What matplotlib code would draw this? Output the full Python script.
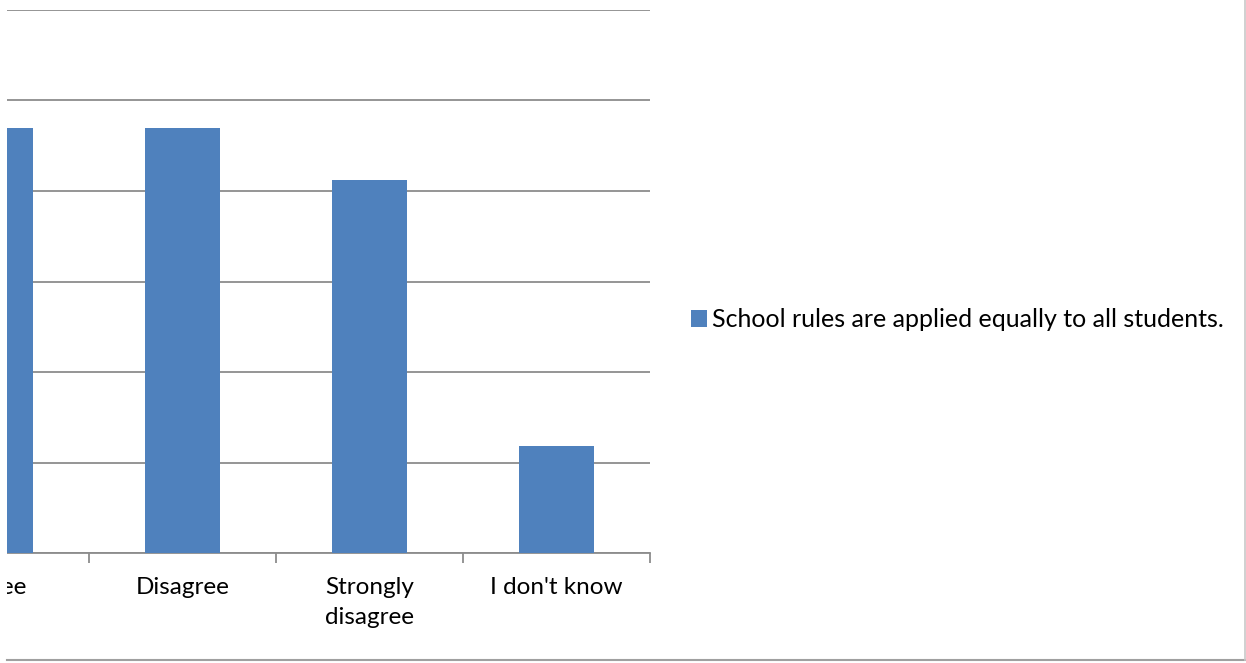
import matplotlib
matplotlib.use("Agg")
import matplotlib.pyplot as plt
from matplotlib.patches import Rectangle
from matplotlib.lines import Line2D

categories = ["Strongly agree", "Agree", "Disagree", "Strongly\ndisagree", "I don't know"]
values = [18.0, 23.5, 23.5, 20.6, 5.9]
series_name = "School rules are applied equally to all students."
y_ticks = [0, 5, 10, 15, 20, 25, 30]

W, H = 1246, 663
plt.rcParams['font.family'] = ['Lato', 'DejaVu Sans']
fig = plt.figure(figsize=(W / 100, H / 100), dpi=100)
fig.patch.set_facecolor("white")

left_px, right_px = -285, 650
top_px, base_px = 10, 553
ax = fig.add_axes([left_px / W, (H - base_px) / H, (right_px - left_px) / W, (base_px - top_px) / H])

x = list(range(len(categories)))
bars = ax.bar(x, values, width=0.4, color="#4F81BD", zorder=3, label=series_name)
ax.set_xlim(-0.5, len(categories) - 0.5)
ax.set_ylim(0, 30)
ax.set_yticks(y_ticks)
ax.yaxis.grid(True, color="#8c8c8c", linewidth=1.3, zorder=0)
ax.tick_params(axis="y", length=0, labelleft=False)

ax.set_xticks([i - 0.5 for i in range(len(categories) + 1)])
ax.set_xticklabels([])
ax.tick_params(axis="x", which="major", length=7, width=1.3, color="#8c8c8c", direction="out")
ax.set_xticks(x, minor=True)
ax.set_xticklabels(categories, minor=True, fontsize=17.5, color="#000000", linespacing=1.55)
ax.tick_params(axis="x", which="minor", length=0, pad=17)

for s in ["top", "right", "left"]:
    ax.spines[s].set_visible(False)
ax.spines["bottom"].set_color("#8c8c8c")
ax.spines["bottom"].set_linewidth(1.3)

leg = fig.legend(handles=[bars], labels=[series_name], loc="center left",
                 bbox_to_anchor=(683 / W, (H - 320) / H), frameon=False,
                 fontsize=18, handlelength=0.64, handleheight=0.64, handletextpad=0.22,
                 borderpad=0.3, borderaxespad=0)

# white margin on the left (clipped chart area)
fig.patches.append(Rectangle((0, 0), 7 / W, 1, transform=fig.transFigure,
                             facecolor="white", edgecolor="none", zorder=10))
# outer chart border (bottom and right)
fig.lines.append(Line2D([7 / W, 1245 / W], [(H - 660) / H] * 2, transform=fig.transFigure,
                        color="#a0a0a0", linewidth=1.5, zorder=11))
fig.lines.append(Line2D([1244.5 / W] * 2, [(H - 660) / H, 1], transform=fig.transFigure,
                        color="#c8c8c8", linewidth=1.2, zorder=11))

fig.savefig("out.png", dpi=100, facecolor="white")
